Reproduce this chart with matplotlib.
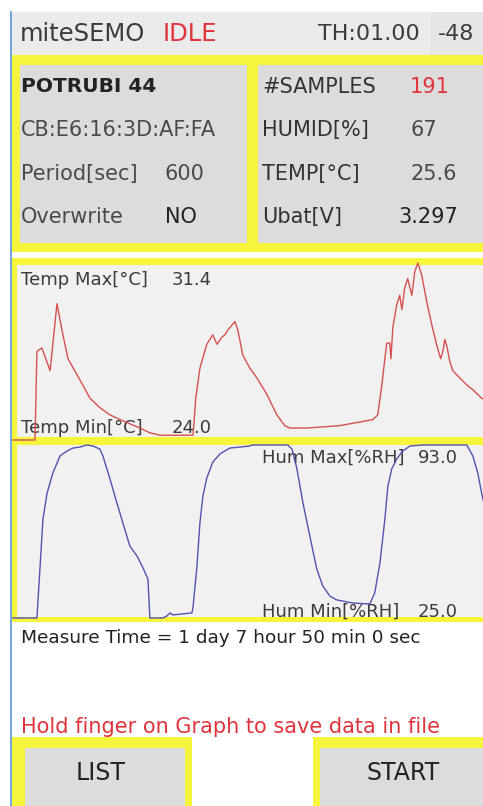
import numpy as np
import matplotlib
matplotlib.use("Agg")
import matplotlib.pyplot as plt
from matplotlib.patches import Rectangle

plt.rcParams['font.family'] = ['DejaVu Sans']

# temperature trace (sample index, deg C)
temp_idx = [0, 8.0, 8.7, 10.5, 13.5, 16.0, 17.8, 20.0, 24.4, 28.0, 31.6, 35.3, 40.0, 46.2,
            49.8, 53.5, 65.5, 66.5, 68.0, 70.5, 72.7, 74.2, 76.0, 77.1, 78.2, 80.7, 81.8,
            83.6, 86.2, 88.7, 92.4, 96.0, 98.9, 100.7, 106.9, 118.9, 123.6, 130.9, 132.7,
            134.2, 135.3, 136.0, 137.1, 137.5, 138.2, 139.6, 140.7, 141.5, 142.5, 143.6,
            145.1, 146.2, 147.3, 148.7, 150.5, 152.4, 154.2, 155.6, 156.4, 157.1, 157.8,
            158.9, 160.0, 162.5, 165.1, 167.3, 170.5, 173.5]
temp_val = [24.0, 24.0, 27.7, 27.85, 26.9, 29.7, 28.6, 27.4, 26.5, 25.75, 25.35, 25.05, 24.8,
            24.5, 24.3, 24.2, 24.2, 25.75, 27.0, 28.0, 28.4, 28.0, 28.3, 28.4, 28.6, 28.95,
            28.6, 27.55, 27.0, 26.6, 25.9, 25.05, 24.6, 24.5, 24.5, 24.6, 24.7, 24.85, 25.05,
            26.3, 27.4, 28.05, 28.05, 27.4, 28.7, 29.65, 30.05, 29.45, 30.35, 30.75, 30.05,
            31.05, 31.4, 30.9, 29.8, 28.8, 27.95, 27.4, 27.7, 28.2, 27.95, 27.3, 26.9, 26.6,
            26.3, 26.1, 25.75, 25.55]

# humidity trace (sample index, %RH)
hum_idx = [0, 8.4, 8.7, 9.8, 10.9, 12.4, 14.5, 17.1, 19.6, 21.8, 24.4, 26.9, 29.1, 31.6,
           32.7, 35.3, 37.8, 40.0, 42.5, 45.1, 47.3, 49.1, 49.8, 54.5, 56.0, 57.1, 58.2,
           65.1, 65.5, 66.9, 68.0, 69.1, 70.5, 72.7, 75.3, 78.9, 86.2, 86.9, 100.0, 101.5,
           103.3, 105.5, 108.0, 110.5, 112.7, 115.3, 117.8, 123.6, 129.8, 131.6, 133.5,
           135.3, 136.4, 137.8, 139.6, 141.8, 144.4, 149.1, 157.8, 165.1, 167.3, 169.1,
           170.5, 173.5]
hum_val = [25.0, 25.0, 25.0, 44.3, 63.9, 74.1, 82.0, 88.7, 90.6, 91.8, 92.2, 93.0, 92.6,
           91.4, 88.7, 79.6, 70.2, 62.3, 53.3, 49.4, 44.7, 40.3, 25.0, 25.0, 25.8, 27.0,
           26.2, 27.0, 29.3, 45.0, 62.3, 73.0, 80.0, 86.3, 89.5, 91.8, 92.6, 93.0, 93.0,
           91.4, 83.6, 70.2, 57.2, 44.3, 37.6, 33.6, 32.1, 30.9, 30.5, 34.8, 46.6, 63.9,
           76.9, 83.6, 87.5, 90.6, 92.6, 93.0, 93.0, 93.0, 88.7, 82.0, 74.1, 59.6]

info_left = [("POTRUBI 44", ""), ("CB:E6:16:3D:AF:FA", ""), ("Period[sec]", "600"), ("Overwrite", "NO")]
info_right = [("#SAMPLES", "191"), ("HUMID[%]", "67"), ("TEMP[°C]", "25.6"), ("Ubat[V]", "3.297")]

W, H = 483, 806
YELLOW = '#f6f53c'
TXT = '#3c3c3c'
RED = '#e0343c'

fig = plt.figure(figsize=(W / 100, H / 100), dpi=100)
fig.patch.set_facecolor('white')
ax = fig.add_axes([0, 0, 1, 1])
ax.set_xlim(0, W)
ax.set_ylim(H, 0)
ax.axis('off')


def box(x0, y0, x1, y1, color):
    ax.add_patch(Rectangle((x0, y0), x1 - x0, y1 - y0, facecolor=color, edgecolor='none'))


# title bar
box(12, 12, W, 55, '#ebebeb')
box(430, 12, W, 55, '#e6e6e6')
ax.text(20, 34, "miteSEMO", fontsize=17.5, color=TXT, va='center')
ax.text(163, 34, "IDLE", fontsize=17.5, color=RED, va='center')
ax.text(318, 34, "TH:01.00", fontsize=16, color=TXT, va='center')
ax.text(438, 34, "-48", fontsize=16, color=TXT, va='center')

# info panels
box(12, 55, W, 252, YELLOW)
box(20, 65, 247, 243, '#dcdcdc')
box(258, 65, W, 243, '#dcdcdc')
rows_y = [87, 130, 174, 217]
for (lab, val), y in zip(info_left, rows_y):
    ax.text(21, y, lab, fontsize=14.5 if lab == "POTRUBI 44" else 15,
            color='#222222' if lab == "POTRUBI 44" else '#4a4a4a',
            fontweight='bold' if lab == "POTRUBI 44" else 'normal', va='center')
    if val:
        ax.text(165, y, val, fontsize=15, color='#222222' if val == "NO" else '#4a4a4a', va='center')
for (lab, val), y in zip(info_right, rows_y):
    ax.text(262, y, lab, fontsize=15, color='#333333', va='center')
    ax.text(398 if val == "3.297" else 410, y, val, fontsize=15,
            color=RED if val == "191" else ('#222222' if val == "3.297" else '#4a4a4a'), va='center')

# graph frames
box(12, 258, W, 622, YELLOW)
box(17, 265, W, 437, '#f1f1f1')
box(17, 445, W, 617, '#f1f1f1')

# measure area / buttons
box(12, 622, W, H, 'white')
ax.text(21, 638, "Measure Time = 1 day 7 hour 50 min 0 sec", fontsize=13.3, color='#222222', va='center')
ax.text(21, 727, "Hold finger on Graph to save data in file", fontsize=15, color=RED, va='center')
box(12, 737, 192, H, YELLOW)
box(25, 748, 185, H, '#dcdcdc')
box(313, 737, W, H, YELLOW)
box(320, 748, W, H, '#dcdcdc')
ax.text(101, 773, "LIST", fontsize=17, color='#222222', va='center', ha='center')
ax.text(403, 773, "START", fontsize=17, color='#222222', va='center', ha='center')

# left blue edge
ax.plot([11, 11], [12, H], color='#5b95d8', lw=1.2)


def graph_axes(top, bottom, lo, hi):
    g = fig.add_axes([13 / W, 1 - bottom / H, (W - 13) / W, (bottom - top) / H])
    g.set_xlim(0, 171)
    g.set_ylim(lo, hi)
    g.axis('off')
    g.patch.set_alpha(0)
    return g


gt = graph_axes(263, 440, 24.0, 31.4)
gt.plot(temp_idx, temp_val, color='#d65050', lw=1.0, clip_on=False)
gh = graph_axes(445, 618, 25.0, 93.0)
gh.plot(hum_idx, hum_val, color='#5252b0', lw=1.0, clip_on=False)

# graph labels
ax.text(21, 280, "Temp Max[°C]", fontsize=13, color=TXT, va='center')
ax.text(172, 280, "31.4", fontsize=13, color=TXT, va='center')
ax.text(21, 428, "Temp Min[°C]", fontsize=13, color=TXT, va='center')
ax.text(172, 428, "24.0", fontsize=13, color=TXT, va='center')
ax.text(262, 458, "Hum Max[%RH]", fontsize=13, color=TXT, va='center')
ax.text(418, 458, "93.0", fontsize=13, color=TXT, va='center')
ax.text(262, 612, "Hum Min[%RH]", fontsize=13, color=TXT, va='center')
ax.text(418, 612, "25.0", fontsize=13, color=TXT, va='center')

fig.savefig("out.png", dpi=100)
